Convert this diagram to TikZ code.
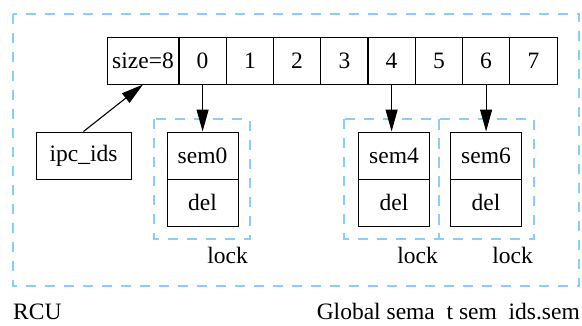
\documentclass[tikz,border=0pt]{standalone}
\usepackage{fontspec}
\setmainfont{Liberation Serif}
\usetikzlibrary{arrows.meta}
\definecolor{clusterblue}{HTML}{87CEFA}
\tikzset{
  cell/.style={draw=black, line width=1pt, inner sep=0pt, minimum height=47pt, font=\fontsize{23.5}{26}\selectfont},
  box/.style={cell, minimum width=71pt},
  clusterbox/.style={draw=clusterblue, line width=2pt, dash pattern=on 10pt off 9pt},
  lbl/.style={inner sep=0pt, font=\fontsize{23.5}{26}\selectfont},
  link/.style={line width=1.1pt, -{Triangle[length=22pt,width=12pt]}}
}
\begin{document}
\begin{tikzpicture}[x=1pt,y=-1pt]
\useasboundingbox (0,0) rectangle (582,325);
% outer cluster
\draw[clusterbox] (13,14) rectangle (579,286);
% lock clusters
\draw[clusterbox] (154,119) rectangle (249.5,238.5);
\draw[clusterbox] (344,119) rectangle (439,238.5);
\draw[clusterbox] (439,119) rectangle (534,238.5);
% array
\node[cell, minimum width=72pt] (size) at (143,60.5) {size=8};
\node[cell, minimum width=47.25pt] (c0) at (202.6,60.5) {0};
\node[cell, minimum width=47.25pt] (c1) at (249.9,60.5) {1};
\node[cell, minimum width=47.25pt] (c2) at (297.1,60.5) {2};
\node[cell, minimum width=47.25pt] (c3) at (344.4,60.5) {3};
\node[cell, minimum width=47.25pt] (c4) at (391.6,60.5) {4};
\node[cell, minimum width=47.25pt] (c5) at (438.9,60.5) {5};
\node[cell, minimum width=47.25pt] (c6) at (486.1,60.5) {6};
\node[cell, minimum width=47.25pt] (c7) at (533.4,60.5) {7};
% ipc_ids
\node[cell, minimum width=95pt] (ipc) at (83.5,155.5) {ipc\_ids};
% sem boxes
\node[box] (sem0) at (202.5,155.5) {sem0};
\node[box] (del0) at (202.5,202.5) {del};
\node[box] (sem4) at (394,155.5) {sem4};
\node[box] (del4) at (394,202.5) {del};
\node[box] (sem6) at (486,155.5) {sem6};
\node[box] (del6) at (486,202.5) {del};
% lock labels
\node[lbl, anchor=east] (lock0) at (248,255) {lock};
\node[lbl, anchor=east] (lock4) at (438,255) {lock};
\node[lbl, anchor=east] (lock6) at (533,255) {lock};
% bottom labels
\node[lbl, anchor=west] (rcu) at (13,312) {RCU};
\node[lbl, anchor=east] (glob) at (580,312) {Global sema\ \ t sem\ \ ids.sem};
% edges
\draw[link] (ipc.north) -- (size.south);
\draw[link] (c0.south) -- (c0.south |- sem0.north);
\draw[link] (c4.south) -- (c4.south |- sem4.north);
\draw[link] (c6.south) -- (c6.south |- sem6.north);
\end{tikzpicture}
\end{document}
